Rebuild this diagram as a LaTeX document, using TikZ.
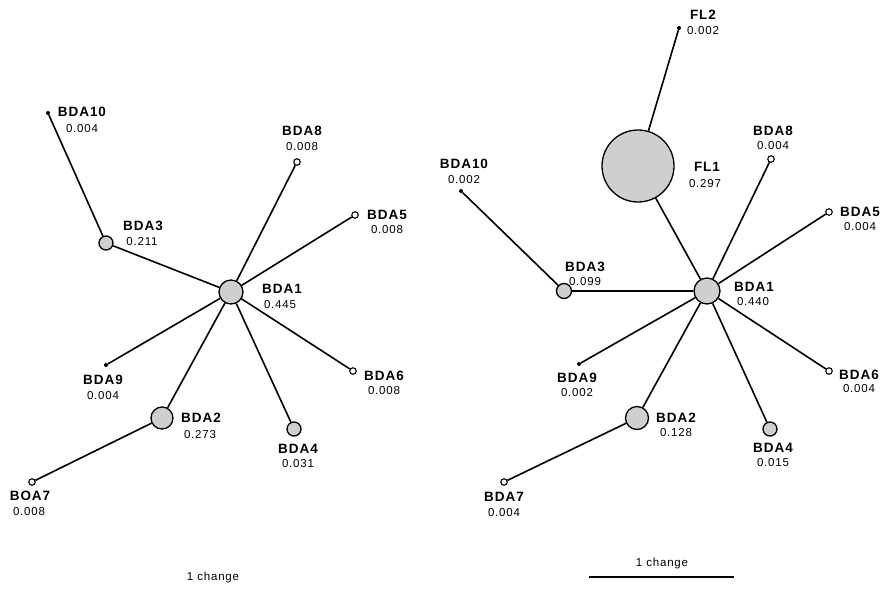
\documentclass[tikz,border=0pt]{standalone}
\usepackage{fontspec}
\setmainfont{Liberation Sans}
\newfontfamily\spacedfont[LetterSpace=7]{Liberation Sans}
\begin{document}
\begin{tikzpicture}[x=1pt,y=-1pt,
  edge/.style={line width=1.6pt,black},
  hap/.style={circle,draw=black,line width=1.3pt,fill=gray!38,inner sep=0pt},
  tiny/.style={circle,draw=black,line width=1.1pt,fill=white,inner sep=0pt,minimum size=6.5pt},
  dotn/.style={circle,fill=black,inner sep=0pt,minimum size=4pt},
  nm/.style={font=\spacedfont\fontsize{13.5}{15}\selectfont\bfseries,inner sep=0pt},
  vl/.style={font=\spacedfont\fontsize{11.5}{13}\selectfont,inner sep=0pt}]
\useasboundingbox (0,0) rectangle (881,590);
\fill[white] (0,0) rectangle (881,590);
% ---------- left network ----------
\node[hap,minimum size=24pt] (L1) at (231,292) {};
\node[dotn] (L10) at (48,113) {};
\node[tiny] (L8) at (297,162) {};
\node[tiny] (L5) at (355,215) {};
\node[hap,minimum size=14pt] (L3) at (106,243) {};
\node[dotn] (L9) at (106,365) {};
\node[hap,minimum size=22pt] (L2) at (162,418) {};
\node[tiny] (L7) at (32,482) {};
\node[hap,minimum size=14pt] (L4) at (294,429) {};
\node[tiny] (L6) at (353,371) {};
\draw[edge] (L10) -- (L3);
\draw[edge] (L3) -- (L1);
\draw[edge] (L8) -- (L1);
\draw[edge] (L5) -- (L1);
\draw[edge] (L9) -- (L1);
\draw[edge] (L2) -- (L1);
\draw[edge] (L4) -- (L1);
\draw[edge] (L6) -- (L1);
\draw[edge] (L7) -- (L2);
\node[nm] (L10n) at (82,112) {BDA10}; \node[vl] (L10v) at (82,129) {0.004};
\node[nm] (L8n) at (302,131) {BDA8}; \node[vl] (L8v) at (302,147) {0.008};
\node[nm] (L5n) at (387,215) {BDA5}; \node[vl] (L5v) at (387,230) {0.008};
\node[nm] (L3n) at (143,226) {BDA3}; \node[vl] (L3v) at (142,242) {0.211};
\node[nm] (L1n) at (282,289) {BDA1}; \node[vl] (L1v) at (280,305) {0.445};
\node[nm] (L9n) at (103,380) {BDA9}; \node[vl] (L9v) at (103,396) {0.004};
\node[nm] (L2n) at (201,418) {BDA2}; \node[vl] (L2v) at (200,435) {0.273};
\node[nm] (L7n) at (30,496) {BOA7}; \node[vl] (L7v) at (29,512) {0.008};
\node[nm] (L4n) at (298,449) {BDA4}; \node[vl] (L4v) at (298,464) {0.031};
\node[nm] (L6n) at (384,376) {BDA6}; \node[vl] (L6v) at (384,391) {0.008};
\node[vl] (Lsc) at (213,578) {1 change};
% ---------- right network ----------
\node[hap,minimum size=26pt] (R1) at (707,291) {};
\node[hap,minimum size=72pt] (F1) at (638,166) {};
\node[dotn] (F2) at (679,28) {};
\node[tiny] (R8) at (771,159) {};
\node[dotn] (R10) at (461,191) {};
\node[tiny] (R5) at (829,212) {};
\node[hap,minimum size=15pt] (R3) at (564,291) {};
\node[dotn] (R9) at (579,364) {};
\node[hap,minimum size=23pt] (R2) at (637,418) {};
\node[hap,minimum size=14pt] (R4) at (770,429) {};
\node[tiny] (R6) at (829,371) {};
\node[tiny] (R7) at (504,482) {};
\draw[edge] (F2) -- (F1);
\draw[edge] (F1) -- (R1);
\draw[edge] (R8) -- (R1);
\draw[edge] (R5) -- (R1);
\draw[edge] (R10) -- (R3);
\draw[edge] (R3) -- (R1);
\draw[edge] (R9) -- (R1);
\draw[edge] (R2) -- (R1);
\draw[edge] (R4) -- (R1);
\draw[edge] (R6) -- (R1);
\draw[edge] (R7) -- (R2);
\node[nm] (F2n) at (703,15) {FL2}; \node[vl] (F2v) at (703,31) {0.002};
\node[nm] (F1n) at (707,167) {FL1}; \node[vl] (F1v) at (705,184) {0.297};
\node[nm] (R8n) at (773,131) {BDA8}; \node[vl] (R8v) at (773,146) {0.004};
\node[nm] (R10n) at (464,164) {BDA10}; \node[vl] (R10v) at (464,180) {0.002};
\node[nm] (R5n) at (860,212) {BDA5}; \node[vl] (R5v) at (860,227) {0.004};
\node[nm] (R3n) at (585,267) {BDA3}; \node[vl] (R3v) at (585,282) {0.099};
\node[nm] (R1n) at (754,287) {BDA1}; \node[vl] (R1v) at (753,302) {0.440};
\node[nm] (R9n) at (577,378) {BDA9}; \node[vl] (R9v) at (577,393) {0.002};
\node[nm] (R2n) at (676,418) {BDA2}; \node[vl] (R2v) at (676,433) {0.128};
\node[nm] (R4n) at (773,448) {BDA4}; \node[vl] (R4v) at (773,463) {0.015};
\node[nm] (R6n) at (859,375) {BDA6}; \node[vl] (R6v) at (859,389) {0.004};
\node[nm] (R7n) at (504,497) {BDA7}; \node[vl] (R7v) at (504,513) {0.004};
\node[vl] (Rsc) at (662,564) {1 change};
\coordinate (sb1) at (589,577);
\coordinate (sb2) at (734,577);
\draw[line width=1.3pt] (sb1) -- (sb2);
\end{tikzpicture}
\end{document}
